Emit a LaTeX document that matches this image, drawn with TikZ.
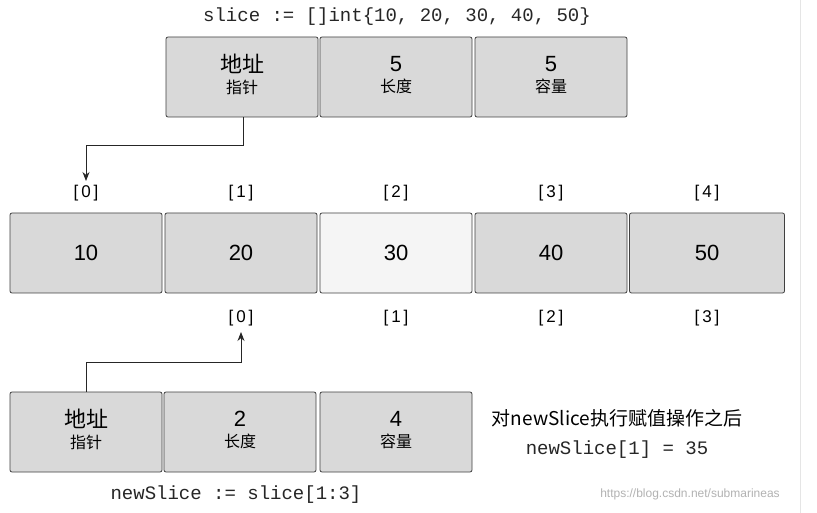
\documentclass[tikz,border=0pt]{standalone}
\usepackage{fontspec}
\setmainfont{Liberation Sans}
\setmonofont{Liberation Mono}
\newfontfamily\cjk{Noto Sans CJK SC}
\usetikzlibrary{arrows.meta}
\begin{document}
\begin{tikzpicture}[x=1pt,y=-1pt,
  cell/.style={draw=black!75,line width=0.8pt,fill=black!15,rounded corners=2pt,minimum width=152pt,minimum height=80pt,inner sep=0pt,font=\fontsize{22}{24}\selectfont},
  lcell/.style={cell,fill=black!4},
  idx/.style={font=\fontsize{17}{18}\selectfont},
  code/.style={font=\ttfamily\fontsize{19}{20}\selectfont,text=black!85},
  arr/.style={draw=black!85,line width=0.9pt,-{Stealth[length=9pt,width=7pt]}}]
\useasboundingbox (0,0) rectangle (817,513);
\fill[white] (0,0) rectangle (817,513);
\draw[black!10,line width=1pt] (800,0) -- (800,513);
\node[code] (t) at (397,17) {slice := []int\{10, 20, 30, 40, 50\}};
% top header
\node[cell] (p) at (242,77) {\begin{tabular}{c}{\cjk 地址}\\[-3pt]{\cjk\fontsize{16}{17}\selectfont 指针}\end{tabular}};
\node[cell] (l) at (396,77) {\begin{tabular}{c}5\\[-3pt]{\cjk\fontsize{16}{17}\selectfont 长度}\end{tabular}};
\node[cell] (c) at (551,77) {\begin{tabular}{c}5\\[-3pt]{\cjk\fontsize{16}{17}\selectfont 容量}\end{tabular}};
% array
\node[cell] (a0) at (86,253) {10};
\node[cell] (a1) at (241,253) {20};
\node[lcell] (a2) at (396,253) {30};
\node[cell] (a3) at (551,253) {40};
\node[cell,minimum width=155pt] (a4) at (707,253) {50};
\foreach \i/\x in {0/86,1/241,2/396,3/551,4/707}{\node[idx] (i\i) at (\x,193) {[\,\i\,]};}
\foreach \i/\x in {0/241,1/396,2/551,3/707}{\node[idx] (j\i) at (\x,318) {[\,\i\,]};}
% bottom header
\node[cell] (np) at (86,432) {\begin{tabular}{c}{\cjk 地址}\\[-3pt]{\cjk\fontsize{16}{17}\selectfont 指针}\end{tabular}};
\node[cell] (nl) at (240,432) {\begin{tabular}{c}2\\[-3pt]{\cjk\fontsize{16}{17}\selectfont 长度}\end{tabular}};
\node[cell] (nc) at (396,432) {\begin{tabular}{c}4\\[-3pt]{\cjk\fontsize{16}{17}\selectfont 容量}\end{tabular}};
\node[code] (nt) at (236,495) {newSlice := slice[1:3]};
\node[font=\cjk\fontsize{19}{20}\selectfont] (r1) at (617,418) {对newSlice执行赋值操作之后};
\node[code] (r2) at (617,450) {newSlice[1] = 35};
\node[font=\fontsize{12}{14}\selectfont,text=black!30] (w) at (690,494) {https://blog.csdn.net/submarineas};
% arrows
\coordinate (pa) at (243,145);
\coordinate (pb) at (86,145);
\draw[arr] (p.south -| pa) -- (pa) -- (pb) -- (86,181);
\coordinate (qa) at (86,362);
\coordinate (qb) at (241,362);
\draw[arr] (np.north) -- (qa) -- (qb) -- (241,332);
\end{tikzpicture}
\end{document}
